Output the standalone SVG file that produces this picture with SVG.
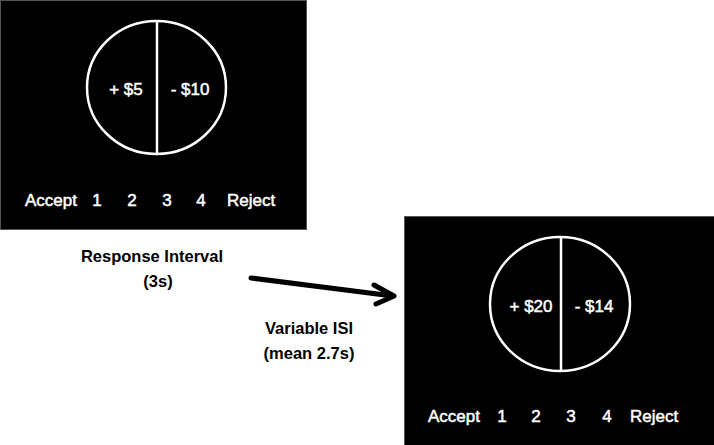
<svg xmlns="http://www.w3.org/2000/svg" width="714" height="445" viewBox="0 0 714 445">
<style>
.screen{fill:#000;stroke:#555;stroke-width:1}
.ring{fill:none;stroke:#fff;stroke-width:2.5}
.div{stroke:#fff;stroke-width:2.5}
.w{fill:#fff;stroke:#fff;stroke-width:0.5;font-family:"Liberation Sans",Arial,sans-serif;font-size:17px}
.lab{fill:#000;font-family:"Liberation Sans",Arial,sans-serif;font-size:16.5px;font-weight:bold;text-anchor:middle}
.arr{fill:none;stroke:#000;stroke-width:5;stroke-linecap:round;stroke-linejoin:round}
</style>
<rect width="714" height="445" fill="#fff"/>
<g id="screen1">
<rect class="screen" x="0.5" y="0.5" width="306" height="229"/>
<ellipse class="ring" cx="156.5" cy="87.5" rx="69.5" ry="66.5"/>
<line class="div" x1="157" y1="21" x2="157" y2="154"/>
<text class="w" x="126" y="95" text-anchor="middle">+ $5</text>
<text class="w" x="190" y="95" text-anchor="middle">- $10</text>
<text class="w" x="25" y="206">Accept</text>
<text class="w" x="97" y="206" text-anchor="middle">1</text>
<text class="w" x="132" y="206" text-anchor="middle">2</text>
<text class="w" x="167" y="206" text-anchor="middle">3</text>
<text class="w" x="201" y="206" text-anchor="middle">4</text>
<text class="w" x="227" y="206">Reject</text>
</g>
<g id="screen2">
<rect class="screen" x="404.5" y="216.5" width="310" height="229"/>
<ellipse class="ring" cx="560" cy="304" rx="70" ry="67"/>
<line class="div" x1="561" y1="237" x2="561" y2="371"/>
<text class="w" x="531" y="312" text-anchor="middle">+ $20</text>
<text class="w" x="594" y="312" text-anchor="middle">- $14</text>
<text class="w" x="428" y="422">Accept</text>
<text class="w" x="502" y="422" text-anchor="middle">1</text>
<text class="w" x="536" y="422" text-anchor="middle">2</text>
<text class="w" x="571" y="422" text-anchor="middle">3</text>
<text class="w" x="607" y="422" text-anchor="middle">4</text>
<text class="w" x="630" y="422">Reject</text>
</g>
<g id="label-response">
<text class="lab" x="152" y="262">Response Interval</text>
<text class="lab" x="158" y="287">(3s)</text>
</g>
<g id="label-isi">
<text class="lab" x="309" y="334">Variable ISI</text>
<text class="lab" x="309" y="359">(mean 2.7s)</text>
</g>
<g id="connectors">
<line class="arr" x1="251" y1="278" x2="393" y2="296"/>
<polyline class="arr" points="374,285 394,296 376,304"/>
</g>
</svg>
